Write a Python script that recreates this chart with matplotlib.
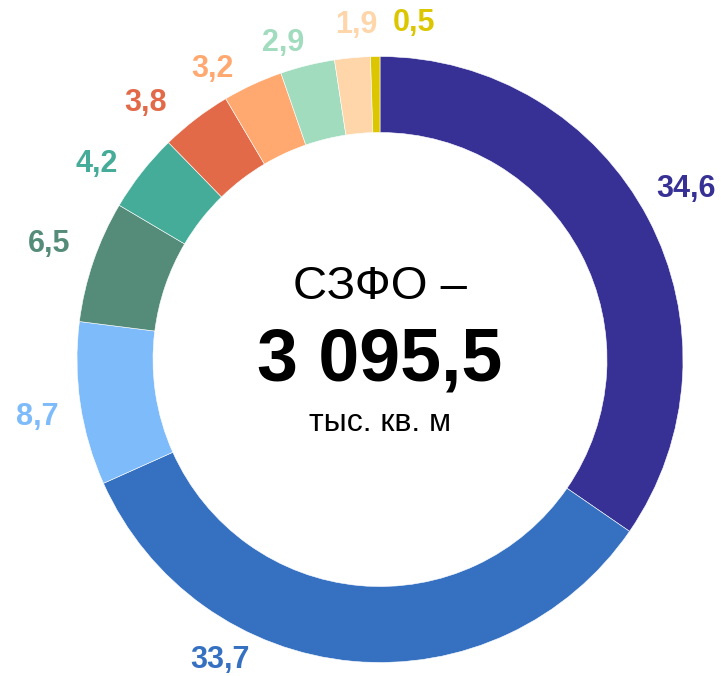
import matplotlib
matplotlib.use("Agg")
import matplotlib.pyplot as plt

# shares, % (clockwise from the top)
values = [34.6, 33.7, 8.7, 6.5, 4.2, 3.8, 3.2, 2.9, 1.9, 0.5]
labels = ["34,6", "33,7", "8,7", "6,5", "4,2", "3,8", "3,2", "2,9", "1,9", "0,5"]
colors = ["#373195", "#3570C1", "#7EBBFA", "#548C79", "#44AC98",
          "#E36A48", "#FFA86F", "#A2DCBF", "#FED6AA", "#DCC600"]
title_line = "СЗФО –"
total_text = "3 095,5"
unit_text = "тыс. кв. м"

# label centres in pixel coords (x, y from top)
label_pos = [(686, 189), (220, 660), (37, 417), (49, 244), (97, 164),
             (146, 103), (212, 69), (283, 43), (356, 25), (414, 23)]

W, H = 721, 676
plt.rcParams['font.family'] = ['Liberation Sans', 'DejaVu Sans']

fig = plt.figure(figsize=(W / 100, H / 100), dpi=100)
ax = fig.add_axes([0, 0, 1, 1])

cx, cy, r = 380, H - 359.5, 303
ax.pie(values, colors=colors, startangle=90, counterclock=False,
       center=(cx, cy), radius=r, frame=True,
       wedgeprops=dict(width=76, edgecolor='white', linewidth=0.4))
ax.set_xlim(0, W)
ax.set_ylim(0, H)
ax.set_aspect('equal')
ax.axis('off')

for lab, col, (px, py) in zip(labels, colors, label_pos):
    ax.text(px, H - py, lab, color=col, fontsize=22, fontweight='bold',
            ha='center', va='center')

ax.text(cx, H - 287, title_line, fontsize=34, ha='center', va='center', color='black')
ax.text(cx, H - 361, total_text, fontsize=53, fontweight='bold', ha='center', va='center', color='black')
ax.text(cx, H - 423, unit_text, fontsize=23, ha='center', va='center', color='black')

fig.savefig("out.png", dpi=100)
